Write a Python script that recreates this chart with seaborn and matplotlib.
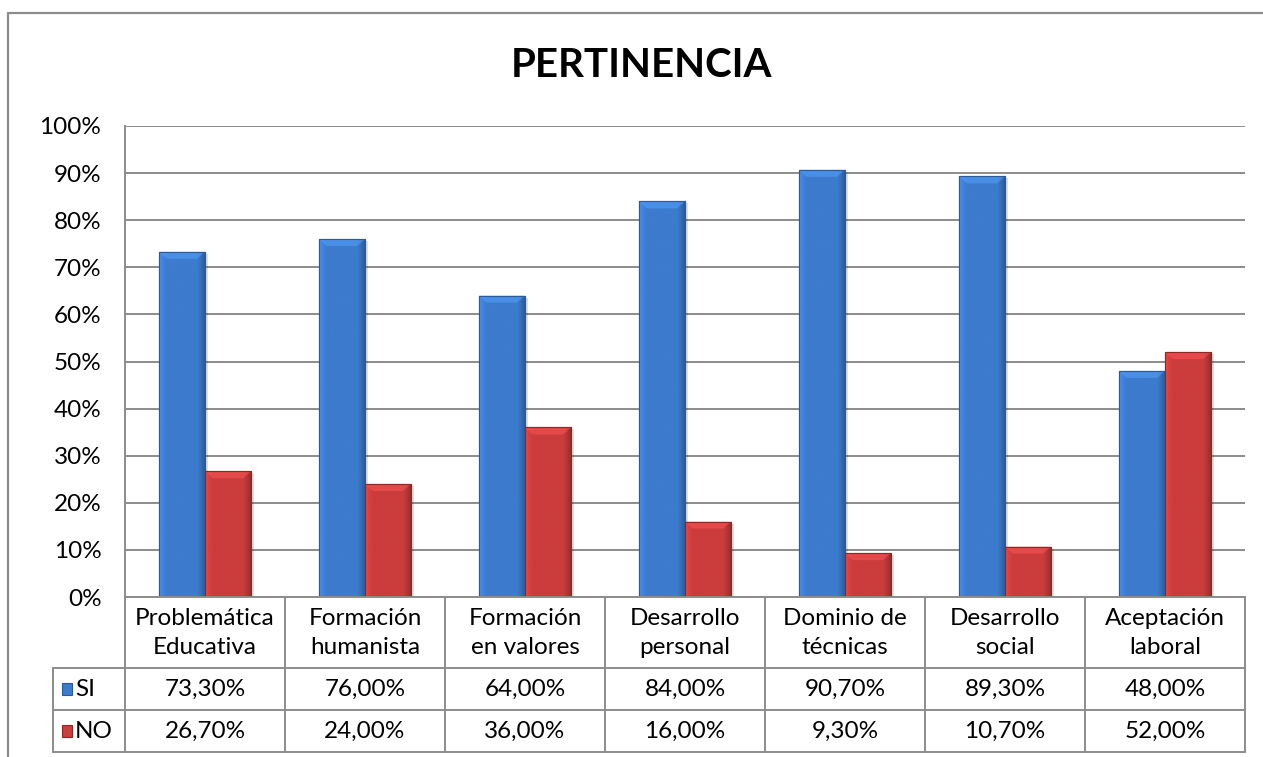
import matplotlib
matplotlib.use("Agg")
import matplotlib.pyplot as plt
import matplotlib.transforms as mtransforms
from matplotlib.patches import Rectangle, Polygon
from matplotlib.lines import Line2D
from matplotlib.colors import to_rgb
import numpy as np
import pandas as pd
import seaborn as sns

# --- data ---
categories = ["Problemática\nEducativa", "Formación\nhumanista", "Formación\nen valores",
              "Desarrollo\npersonal", "Dominio de\ntécnicas", "Desarrollo\nsocial",
              "Aceptación\nlaboral"]
si_values = [73.3, 76.0, 64.0, 84.0, 90.7, 89.3, 48.0]
no_values = [26.7, 24.0, 36.0, 16.0, 9.3, 10.7, 52.0]
series = ["SI", "NO"]
y_ticks = [0, 10, 20, 30, 40, 50, 60, 70, 80, 90, 100]

colors = {"SI": "#3c7bcd", "NO": "#cb3c3c"}
edges = {"SI": "#2b5a98", "NO": "#8f2727"}
grid_col = "#8c8c8c"
FS = 17.5

df = pd.DataFrame({
    "Categoria": categories * 2,
    "Valor": si_values + no_values,
    "Serie": ["SI"] * len(categories) + ["NO"] * len(categories),
})

sns.set_style("white")
plt.rcParams["font.family"] = ["Lato", "DejaVu Sans"]
plt.rcParams["text.color"] = "black"
plt.rcParams["ytick.color"] = "black"

W, H = 1263, 757
fig = plt.figure(figsize=(W / 100, H / 100), dpi=100)
# plot area in pixels: x 125..1245, y 126..597
ax = fig.add_axes([125 / W, 1 - 597 / H, 1120 / W, 471 / H])

sns.barplot(data=df, x="Categoria", y="Valor", hue="Serie", hue_order=series,
            palette=colors, width=0.575, gap=0, legend=False, ax=ax)

# bevel-like shading on each bar (Excel style)
profile_t = [0, 0.07, 0.16, 0.84, 0.93, 1]
profile_f = [1.18, 1.08, 1.0, 1.0, 0.88, 0.75]
t = np.linspace(0, 1, 60)
fac = np.interp(t, profile_t, profile_f)
px_to_data = 100 / 471
px_to_x = 7 / 1120
for name, cont in zip(series, ax.containers):
    base = np.array(to_rgb(colors[name]))
    grad = np.clip(base[None, :] * fac[:, None], 0, 1)[None, :, :]
    for p in cont.patches:
        x0, w, h = p.get_x(), p.get_width(), p.get_height()
        z = p.get_zorder()
        p.set_edgecolor(edges[name])
        p.set_linewidth(0.8)
        # soft shadow on the right side
        ax.add_patch(Rectangle((x0 + w, 0), 3 * px_to_x, h - 2 * px_to_data, facecolor="#000000",
                               alpha=0.12, edgecolor="none", zorder=z - 0.1))
        im = ax.imshow(grad, extent=[x0, x0 + w, 0, h], aspect="auto", zorder=z + 0.1,
                       interpolation="bilinear")
        im.set_clip_path(p)
        light = np.clip(base * 1.2 + 0.06, 0, 1)
        dx, dy = 0.17 * w, 7 * px_to_data
        ax.add_patch(Polygon([(x0, h), (x0 + w, h), (x0 + w - dx, h - dy), (x0 + dx, h - dy)],
                             closed=True, facecolor=light, edgecolor="none", alpha=0.5,
                             zorder=z + 0.2))
        ax.add_patch(Rectangle((x0, 0), w, h, facecolor="none", edgecolor=edges[name],
                               linewidth=0.8, zorder=z + 0.3))

ax.set_xlim(-0.5, len(categories) - 0.5)
ax.set_ylim(0, 100)
ax.set_yticks(y_ticks)
ax.set_yticklabels([f"{v}%" for v in y_ticks], fontsize=FS)
ax.set_xticks([])
ax.set_xlabel("")
ax.set_ylabel("")
ax.tick_params(axis="y", length=0, pad=17)
ax.yaxis.grid(True, color=grid_col, linewidth=1.4)
ax.set_axisbelow(True)
for s in ["top", "right"]:
    ax.spines[s].set_visible(False)
for s in ["left", "bottom"]:
    ax.spines[s].set_color(grid_col)
    ax.spines[s].set_linewidth(1.4)

# --- data table below the plot ---
tr = mtransforms.blended_transform_factory(ax.transData, ax.transAxes)
def ay(py):
    return (597 - py) / 471

n = len(categories)
line_kw = dict(color=grid_col, linewidth=1.4, clip_on=False, zorder=5)
for i in range(n + 1):
    ax.add_line(Line2D([i - 0.5, i - 0.5], [ay(597), ay(752)], transform=tr, **line_kw))
fig.add_artist(Line2D([53 / W, 53 / W], [1 - 668 / H, 1 - 752 / H], transform=fig.transFigure,
                      color=grid_col, linewidth=1.4))
for py in [668, 710, 752]:
    fig.add_artist(Line2D([53 / W, 1245 / W], [1 - py / H] * 2, transform=fig.transFigure,
                          color=grid_col, linewidth=1.4))

def fmt(v):
    return f"{v:.2f}%".replace(".", ",")

for i, cat in enumerate(categories):
    ax.text(i, ay(633), cat, transform=tr, ha="center", va="center", fontsize=FS,
            linespacing=1.45, clip_on=False)
    ax.text(i, ay(689), fmt(si_values[i]), transform=tr, ha="center", va="center",
            fontsize=FS, clip_on=False)
    ax.text(i, ay(731), fmt(no_values[i]), transform=tr, ha="center", va="center",
            fontsize=FS, clip_on=False)

# legend keys inside the table
for name, py in zip(series, [689, 731]):
    fig.patches.append(Rectangle((62 / W, 1 - (py + 6) / H), 10 / W, 12 / H,
                                 transform=fig.transFigure, facecolor=colors[name],
                                 edgecolor=edges[name], linewidth=0.8))
    fig.text(75 / W, 1 - py / H, name, ha="left", va="center", fontsize=FS)

# title
fig.text(641 / W, 1 - 77 / H, "PERTINENCIA", ha="center", va="baseline",
         fontsize=29, fontweight="bold")

# outer chart border (top and left only visible)
fig.add_artist(Line2D([8 / W, 1], [1 - 13 / H] * 2, transform=fig.transFigure,
                      color=grid_col, linewidth=1.6))
fig.add_artist(Line2D([8 / W, 8 / W], [1 - 13 / H, 0], transform=fig.transFigure,
                      color=grid_col, linewidth=1.6))

fig.savefig("out.png", dpi=100)
